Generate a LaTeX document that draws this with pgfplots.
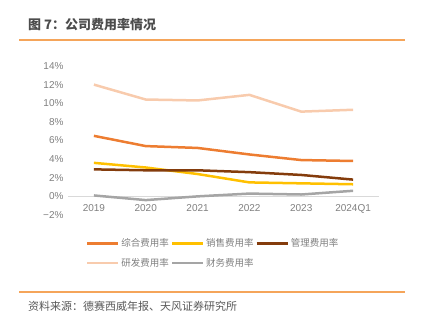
\documentclass[border=0pt]{standalone}
\usepackage{fontspec}
\usepackage{pgfplots}
\pgfplotsset{compat=1.18}
\setmainfont{Liberation Sans}
\newfontfamily\cjk{Noto Sans CJK SC}
\definecolor{czh}{HTML}{ED7D31}
\definecolor{cxs}{HTML}{FFC000}
\definecolor{cgl}{HTML}{843C0C}
\definecolor{cyf}{HTML}{F8CBAD}
\definecolor{ccw}{HTML}{A5A5A5}
\definecolor{rule}{HTML}{F5A55A}
\definecolor{tick}{HTML}{7F7F7F}
\begin{document}
\begin{tikzpicture}[x=1pt,y=1pt]
\path[use as bounding box] (0,0) rectangle (421,321);
\node[anchor=west, text=black!70, font=\cjk\bfseries\fontsize{13}{15}\selectfont, inner sep=0] at (28,296) {图 7：公司费用率情况};
\draw[rule, line width=1.5pt] (19,281) -- (405,281);
\draw[rule, line width=1.5pt] (19,29) -- (405,29);
\node[anchor=west, text=black!65, font=\cjk\fontsize{11}{13}\selectfont, inner sep=0] at (28,15) {资料来源：德赛西威年报、天风证券研究所};
\begin{axis}[
  at={(68pt,106pt)}, anchor=south west,
  scale only axis, width=311pt, height=149pt,
  xmin=-0.5, xmax=5.5, ymin=-2, ymax=14,
  axis x line=middle, axis y line=left,
  x axis line style={draw=black!15, line width=1pt, -},
  y axis line style={draw=none},
  xtick={0,1,2,3,4,5},
  xticklabels={2019,2020,2021,2022,2023,2024Q1},
  ytick={-2,0,2,4,6,8,10,12,14},
  yticklabels={−2\%,0\%,2\%,4\%,6\%,8\%,10\%,12\%,14\%},
  major tick length=0pt,
  tick label style={font=\fontsize{10}{12}\selectfont, text=tick},
  x tick label style={yshift=-5pt},
  y tick label style={xshift=-1pt},
  legend style={at={(axis description cs:0.058,-0.145)}, anchor=north west, draw=none, fill=none,
    font=\cjk\fontsize{9.5}{11}\selectfont, text=tick, inner sep=0pt,
    /tikz/every even column/.append style={column sep=0pt}, row sep=6pt},
  legend columns=3,
  legend cell align=left,
  legend image code/.code={\draw[#1, line width=2.2pt] (0pt,0pt) -- (31pt,0pt);},
  every axis plot/.append style={line width=2.5pt, mark=none},
]
\addplot[czh] coordinates {(0,6.5) (1,5.4) (2,5.2) (3,4.5) (4,3.9) (5,3.8)};
\addlegendentry{综合费用率}
\addplot[cxs] coordinates {(0,3.6) (1,3.1) (2,2.4) (3,1.5) (4,1.4) (5,1.3)};
\addlegendentry{销售费用率}
\addplot[cgl] coordinates {(0,2.9) (1,2.8) (2,2.8) (3,2.6) (4,2.3) (5,1.8)};
\addlegendentry{管理费用率}
\addplot[cyf] coordinates {(0,12.0) (1,10.4) (2,10.3) (3,10.9) (4,9.1) (5,9.3)};
\addlegendentry{研发费用率}
\addplot[ccw] coordinates {(0,0.1) (1,-0.4) (2,0.0) (3,0.3) (4,0.2) (5,0.6)};
\addlegendentry{财务费用率}
\end{axis}
\end{tikzpicture}
\end{document}
